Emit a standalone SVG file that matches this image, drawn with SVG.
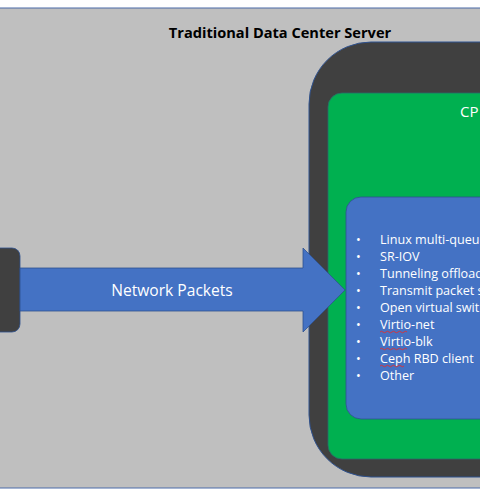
<svg xmlns="http://www.w3.org/2000/svg" width="480" height="495" viewBox="0 0 480 495">
<style>
.t{font-family:"Open Sans","Liberation Sans",sans-serif;fill:#fff}
.b{font-family:"Open Sans","Liberation Sans",sans-serif;fill:#fff;font-size:12.6px}
.sq{fill:none;stroke:#e03030;stroke-width:0.9}
</style>
<rect width="480" height="495" fill="#fff"/>
<g id="server">
<rect x="-2" y="8" width="484" height="480" fill="#BFBFBF" stroke="#4a6aa8" stroke-width="1"/>
<text x="280" y="37.5" text-anchor="middle" font-family="Open Sans, Liberation Sans, sans-serif" font-weight="bold" font-size="14.6" fill="#000">Traditional Data Center Server</text>
</g>
<g id="host">
<rect x="309" y="42" width="240" height="435" rx="62" ry="62" fill="#404040" stroke="#2F528F" stroke-width="1"/>
</g>
<g id="cpu">
<rect x="328" y="93" width="200" height="366" rx="14" ry="14" fill="#00B050" stroke="#2a6a6a" stroke-width="0.8"/>
<text class="t" x="460" y="117" font-size="15">CP</text>
</g>
<g id="features">
<rect x="346" y="197" width="180" height="222" rx="15" ry="15" fill="#4472C4" stroke="#2F528F" stroke-width="0.8"/>
<g class="b">
<text x="356" y="244">•</text><text x="380" y="244">Linux multi-queue</text>
<text x="356" y="261">•</text><text x="380" y="261">SR-IOV</text>
<text x="356" y="278">•</text><text x="380" y="278">Tunneling offload</text>
<text x="356" y="295">•</text><text x="380" y="295">Transmit packet s</text>
<text x="356" y="312">•</text><text x="380" y="312">Open virtual swit</text>
<text x="356" y="329">•</text><text x="380" y="329">Virtio-net</text>
<text x="356" y="346">•</text><text x="380" y="346">Virtio-blk</text>
<text x="356" y="363">•</text><text x="380" y="363">Ceph RBD client</text>
<text x="356" y="380">•</text><text x="380" y="380">Other</text>
</g>
<path class="sq" d="M380 332 q1.5 -1.5 3 0 t3 0 t3 0 t3 0 t3 0 t3 0 t3 0 t3 0 t3 0"/>
<path class="sq" d="M380 349 q1.5 -1.5 3 0 t3 0 t3 0 t3 0 t3 0 t3 0 t3 0 t3 0 t3 0"/>
<path class="sq" d="M380 366 q1.5 -1.5 3 0 t3 0 t3 0 t3 0 t3 0 t3 0 t3 0 t3 0"/>
</g>
<g id="nic">
<rect x="-20" y="248" width="40" height="84" rx="8" ry="8" fill="#404040" stroke="#2F528F" stroke-width="0.8"/>
</g>
<g id="connectors">
<path d="M20 268 H303 V248 L345 290 L303 332 V311 H20 Z" fill="#4472C4" stroke="#2F528F" stroke-width="0.8"/>
<text class="t" x="172" y="296" text-anchor="middle" font-size="15.6">Network Packets</text>
</g>
</svg>
